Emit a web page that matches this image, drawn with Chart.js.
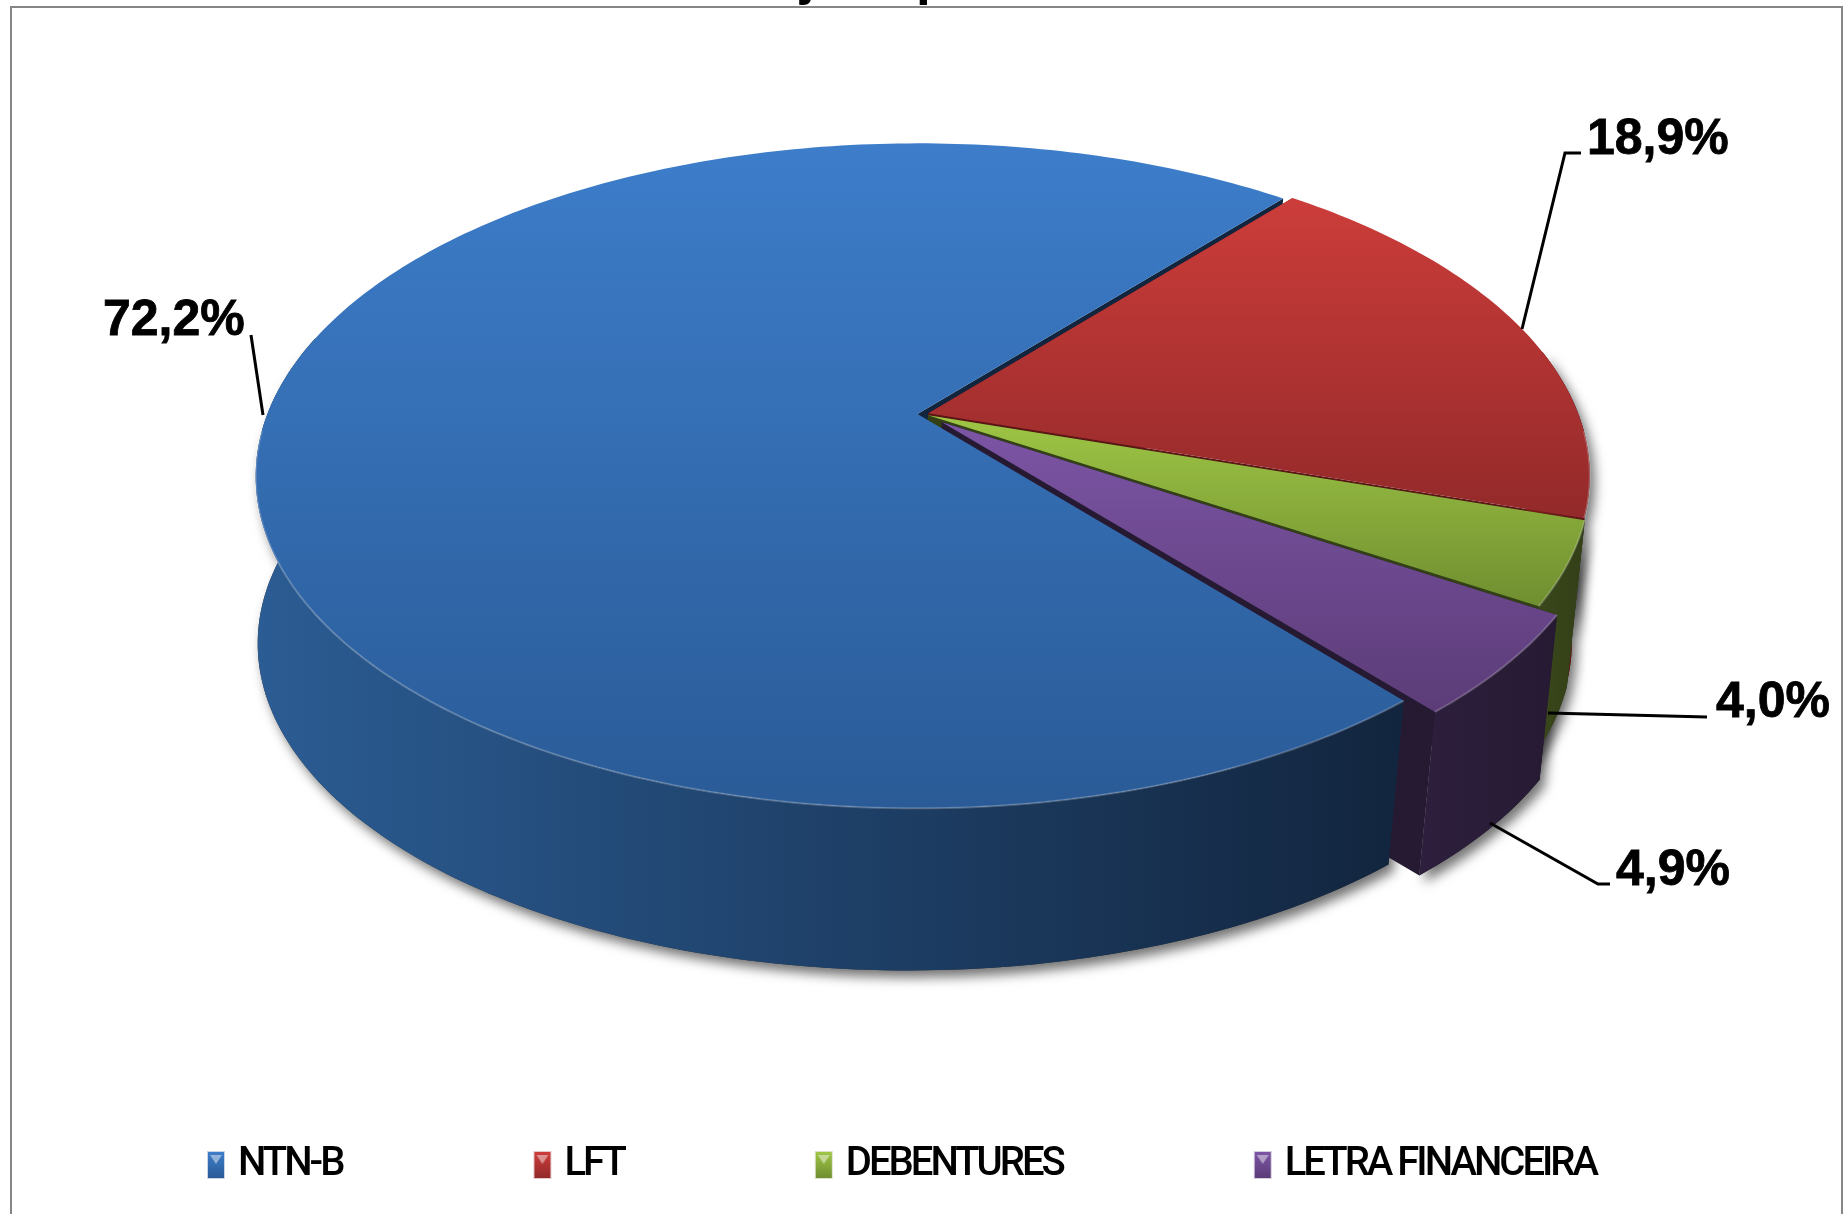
<!DOCTYPE html>
<html>
<head>
<meta charset="utf-8">
<script src="https://cdn.jsdelivr.net/npm/chart.js@4"></script>
<style>
  html, body { margin: 0; padding: 0; background: #fff; }
  canvas { display: block; }
</style>
</head>
<body>
<canvas id="pieChart" width="1843" height="1214"></canvas>
<script>
const categories = ['NTN-B', 'LFT', 'DEBENTURES', 'LETRA FINANCEIRA'];
const values = [72.2, 18.9, 4.0, 4.9];
const sliceOffsets = [4, 4, 4, 18];

// colours per slice: top face light/dark, rim light/dark
const faceLight = ['#3d7dca', '#cc3d3a', '#9fc645', '#7c55a5'];
const faceDark = ['#2a5b97', '#93292a', '#6f8e30', '#5c3c78'];
const rimLight = ['#2b5c93', '#7c1c1c', '#3b4a1c', '#2d1f3d'];
const rimDark = ['#12253e', '#5c1414', '#333f17', '#261a33'];

const valueLabels = values.map((v) => v.toFixed(1).replace('.', ',') + '%');
const labelSpots = [[103, 335], [1587, 154], [1716, 717], [1616, 885]];
const leaderLines = [
  [[251, 335], [263, 415]],
  [[1581, 153], [1565, 153], [1522, 329]],
  [[1707, 717], [1548, 713]],
  [[1610, 884], [1598, 884], [1490, 823]]
];

// projection of the flat pie: near side is bigger than the far side
const pieW = 650;
const pieH = 321;
const lift = -62; // pie sits above the middle of the chart area
const perspective = 0.186;
const depthX = -8;
const depthY = 168;
const bottomScale = 0.985;

function unitPoint(el, t, atCenter) {
  const mid = (el.startAngle + el.endAngle) / 2;
  const e = el.options.offset / el.outerRadius;
  const u = (atCenter ? 0 : Math.cos(t)) + e * Math.cos(mid);
  const v = (atCenter ? 0 : Math.sin(t)) + e * Math.sin(mid);
  return [u, v];
}

function topPoint(el, t, atCenter) {
  const [u, v] = unitPoint(el, t, atCenter);
  const w = 1 - perspective * v;
  return [el.x + pieW * u / w, el.y + lift + pieH * v / w];
}

function bottomPoint(el, t, atCenter) {
  const [u, v] = unitPoint(el, t, atCenter);
  const w = 1 - perspective * v;
  return [el.x + depthX + bottomScale * pieW * u / w, el.y + lift + depthY + bottomScale * pieH * v / w];
}

function sampleAngles(a, b) {
  const out = [];
  const n = Math.max(2, Math.ceil((b - a) / (Math.PI / 180)));
  for (let i = 0; i <= n; i++) out.push(a + (b - a) * i / n);
  return out;
}

function fillPoly(ctx, pts, style) {
  ctx.beginPath();
  pts.forEach((p, i) => (i ? ctx.lineTo(p[0], p[1]) : ctx.moveTo(p[0], p[1])));
  ctx.closePath();
  ctx.fillStyle = style;
  ctx.fill();
}

// part of the slice rim that faces the viewer
function rimPoints(el) {
  const lo = -0.2;
  const hi = Math.PI + 0.25;
  const angles = [];
  for (let k = -1; k <= 1; k++) {
    const a = Math.max(el.startAngle + k * 2 * Math.PI, lo);
    const b = Math.min(el.endAngle + k * 2 * Math.PI, hi);
    if (b > a) angles.push(...sampleAngles(a, b));
  }
  if (!angles.length) return null;
  return angles.map((t) => topPoint(el, t)).concat(angles.slice().reverse().map((t) => bottomPoint(el, t)));
}

function drawWall(ctx, el, t, color) {
  fillPoly(ctx, [topPoint(el, t, true), topPoint(el, t), bottomPoint(el, t), bottomPoint(el, t, true)], color);
}

function drawRim(ctx, el, i) {
  const pts = rimPoints(el);
  if (!pts) return;
  const xs = pts.map((p) => p[0]);
  const g = ctx.createLinearGradient(Math.min(...xs), 0, Math.max(...xs), 0);
  g.addColorStop(0, rimLight[i]);
  g.addColorStop(1, rimDark[i]);
  fillPoly(ctx, pts, g);
}

function drawFace(ctx, el, i) {
  const pts = [topPoint(el, 0, true)].concat(sampleAngles(el.startAngle, el.endAngle).map((t) => topPoint(el, t)));
  const ys = pts.map((p) => p[1]);
  const g = ctx.createLinearGradient(0, Math.min(...ys), 0, Math.max(...ys));
  g.addColorStop(0, faceLight[i]);
  g.addColorStop(1, faceDark[i]);
  fillPoly(ctx, pts, g);
  // soft light edge on the front of the rim
  ctx.beginPath();
  sampleAngles(el.startAngle, el.endAngle).forEach((t) => {
    if (Math.sin(t) < 0.05) return;
    const p = topPoint(el, t);
    ctx.lineTo(p[0], p[1]);
  });
  ctx.strokeStyle = 'rgba(255,255,255,0.22)';
  ctx.lineWidth = 2;
  ctx.stroke();
}

const pie3d = {
  id: 'pie3d',
  beforeLayout(chart) {
    // no narrow font installed, so tighten the legend text instead
    chart.ctx.letterSpacing = '-3px';
  },
  beforeDraw(chart) {
    chart.ctx.letterSpacing = '-3px';
  },
  beforeDatasetDraw(chart, args) {
    const ctx = chart.ctx;
    const arcs = chart.getDatasetMeta(args.index).data;
    ctx.save();
    // drop shadow under the whole pie
    ctx.shadowColor = 'rgba(0,0,0,0.55)';
    ctx.shadowBlur = 12;
    ctx.shadowOffsetX = 5;
    ctx.shadowOffsetY = 7;
    arcs.forEach((el) => {
      const pts = rimPoints(el);
      if (pts) fillPoly(ctx, pts, '#333');
    });
    ctx.shadowColor = 'transparent';
    // back wall of the big slice, then small slices, big slice last
    drawWall(ctx, arcs[0], arcs[0].endAngle, rimDark[0]);
    [1, 2, 3].forEach((i) => {
      drawWall(ctx, arcs[i], arcs[i].endAngle, rimDark[i]);
      drawWall(ctx, arcs[i], arcs[i].startAngle, rimDark[i]);
      drawRim(ctx, arcs[i], i);
      drawFace(ctx, arcs[i], i);
    });
    drawRim(ctx, arcs[0], 0);
    drawFace(ctx, arcs[0], 0);
    ctx.restore();
    return false;
  },
  afterDraw(chart) {
    const ctx = chart.ctx;
    ctx.save();
    ctx.letterSpacing = '0px';
    // leftovers of the cut-off title
    ctx.fillStyle = '#000';
    ctx.font = 'bold 53px "Liberation Sans"';
    ctx.textBaseline = 'alphabetic';
    ctx.fillText('j', 800, -6);
    ctx.fillText('p', 916, -6);
    // frame
    ctx.strokeStyle = '#868686';
    ctx.lineWidth = 2;
    ctx.beginPath();
    ctx.moveTo(11, 1214);
    ctx.lineTo(11, 7);
    ctx.lineTo(1842, 7);
    ctx.lineTo(1842, 1214);
    ctx.stroke();
    // leader lines and value labels
    ctx.strokeStyle = '#000';
    ctx.lineWidth = 3;
    leaderLines.forEach((line) => {
      ctx.beginPath();
      line.forEach((p, i) => (i ? ctx.lineTo(p[0], p[1]) : ctx.moveTo(p[0], p[1])));
      ctx.stroke();
    });
    ctx.font = 'bold 50px "Liberation Sans"';
    ctx.lineWidth = 0.8;
    valueLabels.forEach((text, i) => {
      ctx.fillText(text, labelSpots[i][0], labelSpots[i][1]);
      ctx.strokeText(text, labelSpots[i][0], labelSpots[i][1]);
    });
    ctx.restore();
  }
};

function legendSwatch(i) {
  const c = document.createElement('canvas');
  c.width = 31;
  c.height = 28;
  const s = c.getContext('2d');
  s.globalAlpha = 0.25;
  s.fillStyle = faceDark[i];
  s.fillRect(9, 0, 18, 28);
  s.globalAlpha = 1;
  const g = s.createLinearGradient(0, 1, 0, 27);
  g.addColorStop(0, faceLight[i]);
  g.addColorStop(1, faceDark[i]);
  s.fillStyle = g;
  s.fillRect(10, 1, 16, 26);
  s.fillStyle = 'rgba(255,255,255,0.45)';
  s.beginPath();
  s.moveTo(12, 4);
  s.lineTo(24, 4);
  s.lineTo(18, 13);
  s.closePath();
  s.fill();
  return c;
}

new Chart(document.getElementById('pieChart'), {
  type: 'pie',
  data: {
    labels: categories,
    datasets: [{
      data: values,
      backgroundColor: faceLight,
      offset: sliceOffsets,
      borderWidth: 0
    }]
  },
  plugins: [pie3d],
  options: {
    responsive: false,
    animation: false,
    rotation: 140,
    layout: { padding: { top: 0, bottom: 19, left: 16, right: 13 } },
    plugins: {
      tooltip: { enabled: false },
      legend: {
        position: 'bottom',
        align: 'start',
        labels: {
          padding: 193,
          usePointStyle: true,
          pointStyleWidth: 9,
          color: '#000',
          font: { family: 'Roboto', size: 40, weight: '500' },
          generateLabels: () => categories.map((text, i) => ({ text, index: i, pointStyle: legendSwatch(i), lineWidth: 0 }))
        }
      }
    }
  }
});
</script>
</body>
</html>
